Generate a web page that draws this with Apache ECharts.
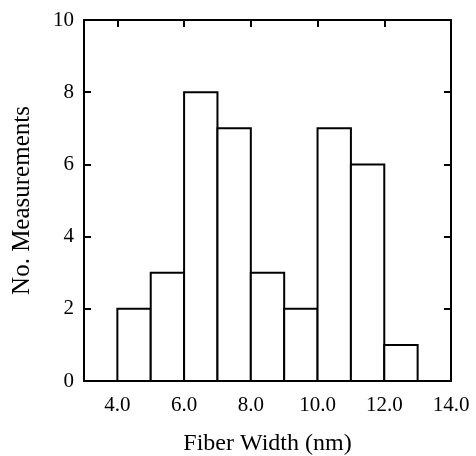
<!DOCTYPE html>
<html>
<head>
<meta charset="utf-8">
<script src="https://cdn.jsdelivr.net/npm/echarts@6/dist/echarts.min.js"></script>
<style>html,body{margin:0;padding:0;background:#fff;}#c{width:476px;height:456px;}</style>
</head>
<body>
<div id="c"></div>
<script>
var binStarts = [4, 5, 6, 7, 8, 9, 10, 11, 12];
var binWidth = 1;
var counts = [2, 3, 8, 7, 3, 2, 7, 6, 1];
var xTicks = [4, 6, 8, 10, 12, 14];
var yTicks = [0, 2, 4, 6, 8, 10];

var data = binStarts.map(function (s, i) { return [s, s + binWidth, counts[i]]; });
var font = '"Liberation Serif", "DejaVu Serif", serif';
var lineStyle = { color: '#000', width: 2 };

var chart = echarts.init(document.getElementById('c'));
chart.setOption({
  animation: false,
  backgroundColor: '#fff',
  grid: { left: 84, right: 25, top: 20, bottom: 75, show: false, containLabel: false, outerBoundsMode: 'none' },
  xAxis: [{
    type: 'value', min: 3, max: 14, interval: 1,
    name: 'Fiber Width (nm)', nameLocation: 'middle', nameGap: 51,
    nameTextStyle: { fontFamily: font, fontSize: 24, color: '#000' },
    axisLine: { show: true, onZero: false, lineStyle: lineStyle },
    axisTick: { show: true, inside: true, length: 7, lineStyle: lineStyle, customValues: xTicks },
    axisLabel: { fontFamily: font, fontSize: 21, color: '#000', margin: 14, customValues: xTicks,
      formatter: function (v) { return v.toFixed(1); } },
    splitLine: { show: false }
  }, {
    type: 'value', min: 3, max: 14, position: 'top',
    axisLine: { show: true, onZero: false, lineStyle: lineStyle },
    axisTick: { show: true, inside: true, length: 7, lineStyle: lineStyle, customValues: xTicks },
    axisLabel: { show: false },
    splitLine: { show: false }
  }],
  yAxis: [{
    type: 'value', min: 0, max: 10, interval: 2,
    name: 'No. Measurements', nameLocation: 'middle', nameGap: 49,
    nameTextStyle: { fontFamily: font, fontSize: 25, color: '#000' },
    axisLine: { show: true, onZero: false, lineStyle: lineStyle },
    axisTick: { show: true, inside: true, length: 7, lineStyle: lineStyle, customValues: yTicks },
    axisLabel: { fontFamily: font, fontSize: 21, color: '#000', margin: 10, customValues: yTicks },
    splitLine: { show: false }
  }, {
    type: 'value', min: 0, max: 10, interval: 2, position: 'right',
    axisLine: { show: true, onZero: false, lineStyle: lineStyle },
    axisTick: { show: true, inside: true, length: 7, lineStyle: lineStyle, customValues: yTicks },
    axisLabel: { show: false },
    splitLine: { show: false }
  }],
  series: [{
    type: 'custom',
    xAxisIndex: 0, yAxisIndex: 0,
    data: data,
    encode: { x: [0, 1], y: 2 },
    renderItem: function (params, api) {
      var p0 = api.coord([api.value(0), api.value(2)]);
      var p1 = api.coord([api.value(1), 0]);
      return {
        type: 'rect',
        shape: { x: p0[0], y: p0[1], width: p1[0] - p0[0], height: p1[1] - p0[1] },
        style: { fill: '#fff', stroke: '#000', lineWidth: 2 }
      };
    }
  }]
});
</script>
</body>
</html>
